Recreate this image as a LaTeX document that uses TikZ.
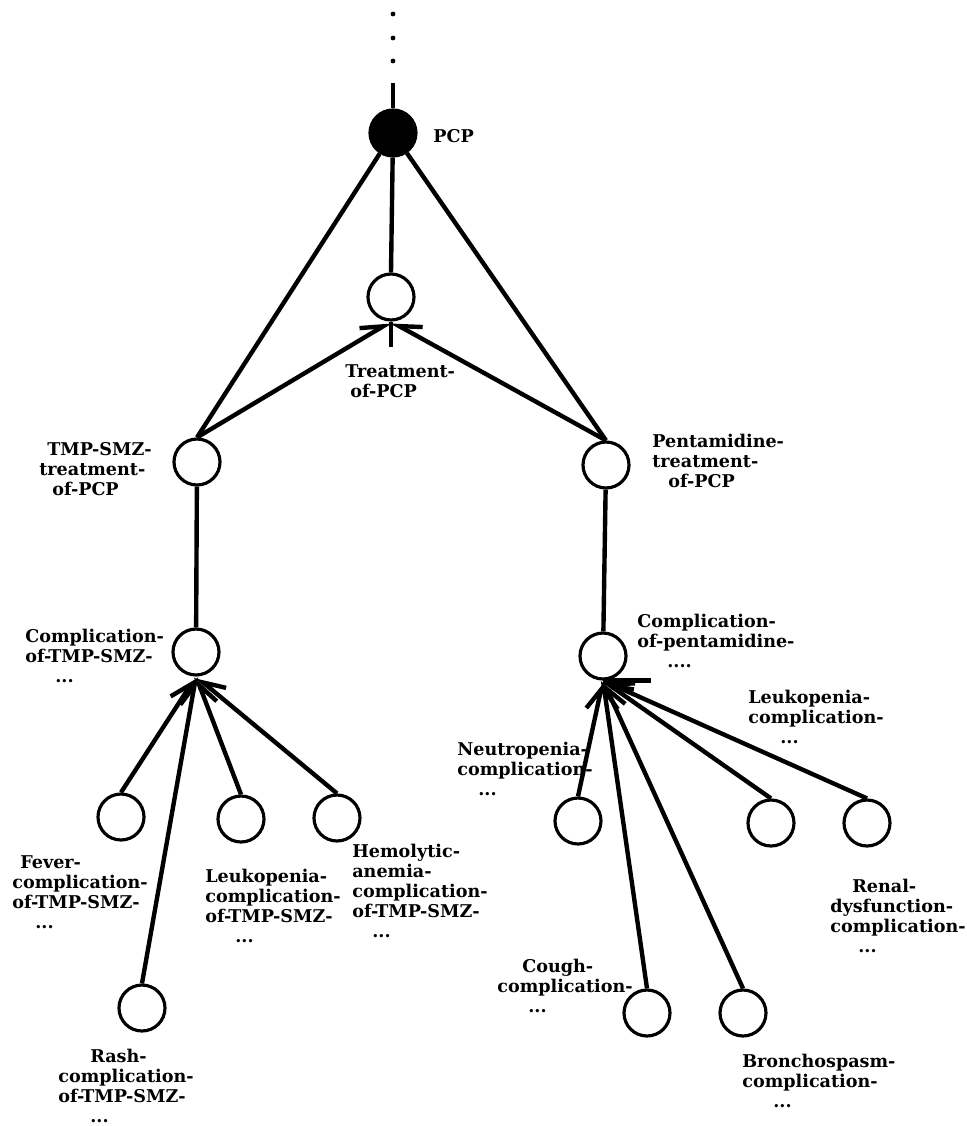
\documentclass[tikz,border=0pt]{standalone}
\usepackage{fontspec}
\setmainfont{DejaVu Serif}
\usetikzlibrary{arrows.meta}
\newlength\pxu
\setlength\pxu{0.02cm}

\begin{document}
\begin{tikzpicture}[x=0.02cm,y=-0.02cm,
  state/.style={circle,draw,line width=1.8pt,fill=white,minimum size=0.92cm,inner sep=0pt},
  root/.style={state,fill=black},
  link/.style={line width=2.5pt},
  tipl/.style={-{Straight Barb[harpoon,length=12pt,width=12pt]}},
  tipr/.style={-{Straight Barb[harpoon,swap,length=12pt,width=12pt]}},
  lbl/.style={font=\bfseries\fontsize{10}{11.38}\selectfont,align=left,inner sep=0pt,anchor=north west}]

\useasboundingbox (0,0) rectangle (967,1126);

% ellipsis above the root
\fill (393,14) circle (2.4);
\fill (393,38) circle (2.4);
\fill (393,61) circle (2.4);
\coordinate (stem) at (393,83);

% concept nodes
\node[root]  (pcp)     at (393,133) {};
\node[state] (treat)   at (391,297) {};
\node[state] (tmp)     at (197,462) {};
\node[state] (pent)    at (606,465) {};
\node[state] (ctmp)    at (196,652) {};
\node[state] (cpent)   at (603,656) {};
\node[state] (fever)   at (121,817) {};
\node[state] (leukt)   at (241,819) {};
\node[state] (hemo)    at (337,818) {};
\node[state] (rash)    at (142,1008) {};
\node[state] (neutro)  at (578,821) {};
\node[state] (leukp)   at (771,823) {};
\node[state] (renal)   at (867,823) {};
\node[state] (cough)   at (647,1013) {};
\node[state] (broncho) at (743,1013) {};

% labels (anchored at the top left of their first line)
\node[lbl] (lpcp)    at (433,129) {PCP};
\node[lbl] (ltreat)  at (345,364) {Treatment-\\\hspace*{5\pxu}of-PCP};
\node[lbl] (ltmp)    at (39,442)  {\hspace*{8\pxu}TMP-SMZ-\\treatment-\\\hspace*{13\pxu}of-PCP};
\node[lbl] (lpent)   at (652,434) {Pentamidine-\\treatment-\\\hspace*{16\pxu}of-PCP};
\node[lbl] (lctmp)   at (25,629)  {Complication-\\of-TMP-SMZ-\\\hspace*{30\pxu}...};
\node[lbl] (lcpent)  at (637,614) {Complication-\\of-pentamidine-\\\hspace*{30\pxu}....};
\node[lbl] (lfever)  at (12,855)  {\hspace*{8\pxu}Fever-\\complication-\\of-TMP-SMZ-\\\hspace*{23\pxu}...};
\node[lbl] (lleukt)  at (205,869) {Leukopenia-\\complication-\\of-TMP-SMZ-\\\hspace*{30\pxu}...};
\node[lbl] (lhemo)   at (352,844) {Hemolytic-\\anemia-\\complication-\\of-TMP-SMZ-\\\hspace*{20\pxu}...};
\node[lbl] (lrash)   at (58,1049) {\hspace*{32\pxu}Rash-\\complication-\\of-TMP-SMZ-\\\hspace*{32\pxu}...};
\node[lbl] (lneutro) at (457,742) {Neutropenia-\\complication-\\\hspace*{21\pxu}...};
\node[lbl] (lleukp)  at (748,690) {Leukopenia-\\complication-\\\hspace*{32\pxu}...};
\node[lbl] (lrenal)  at (830,879) {\hspace*{22\pxu}Renal-\\dysfunction-\\complication-\\\hspace*{28\pxu}...};
\node[lbl] (lcough)  at (497,959) {\hspace*{25\pxu}Cough-\\complication-\\\hspace*{31\pxu}...};
\node[lbl] (lbroncho) at (742,1054) {Bronchospasm-\\complication-\\\hspace*{31\pxu}...};

% hierarchy links
\draw[link] (stem) -- (pcp);
\draw[link] (pcp) -- (treat.north);
\draw[link] (pcp) -- (tmp.north);
\draw[link] (pcp) -- (pent.north);
\draw[link] (tmp) -- (ctmp);
\draw[link] (pent) -- (cpent);

% specialisation arrows
\draw[link,tipl] (tmp.north) -- (treat.south);
\draw[link,tipr] (pent.north) -- (treat.south);
\draw[link] (treat.south) -- ++(0,25);

\draw[link,tipl] (fever.north) -- (ctmp.south);
\draw[link,tipl] (rash.north)  -- (ctmp.south);
\draw[link,tipr] (leukt.north) -- (ctmp.south);
\draw[link,tipr] (hemo.north)  -- (ctmp.south);

\draw[link,tipl] (neutro.north)  -- (cpent.south);
\draw[link,tipr] (cough.north)   -- (cpent.south);
\draw[link,tipr] (broncho.north) -- (cpent.south);
\draw[link,tipr] (leukp.north)   -- (cpent.south);
\draw[link,tipr] (renal.north)   -- (cpent.south);
\draw[link] (cpent.south) -- ++(48,0);
\end{tikzpicture}
\end{document}
